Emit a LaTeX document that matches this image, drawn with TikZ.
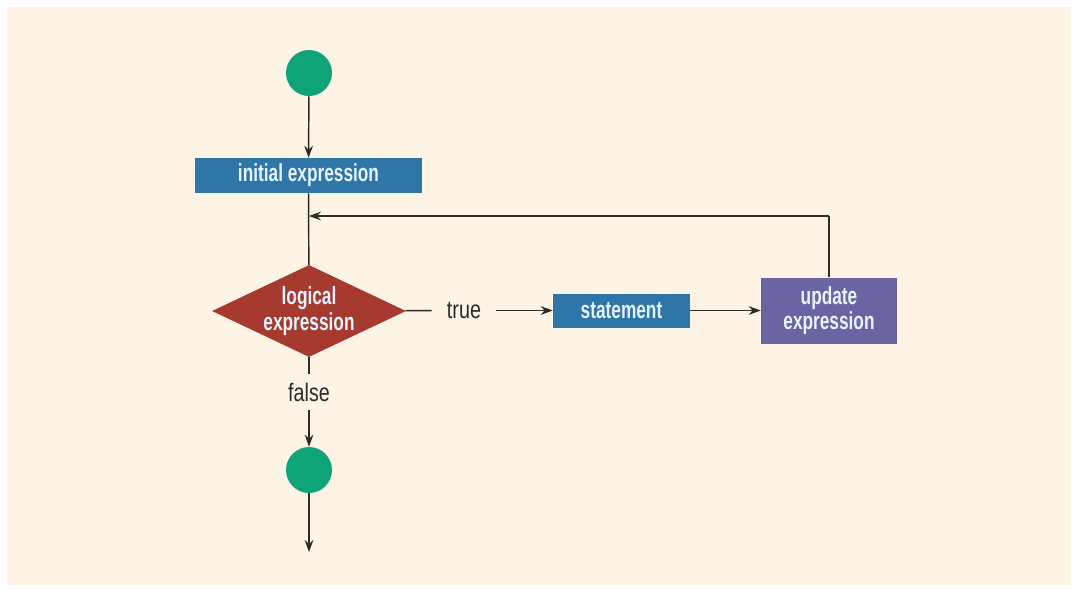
\documentclass[tikz,border=0pt]{standalone}
\usepackage{fontspec}
\setmainfont{Liberation Sans}[FakeStretch=0.78]
\newfontfamily\boxfont{Liberation Sans Bold}[FakeStretch=0.7]
\usepackage{tikz}
\usetikzlibrary{shapes.geometric,arrows.meta}

\definecolor{paper}{HTML}{FEF4E6}
\definecolor{flowgreen}{HTML}{0FA37A}
\definecolor{flowblue}{HTML}{2E76A8}
\definecolor{flowred}{HTML}{A63A2E}
\definecolor{flowpurple}{HTML}{6A64A2}
\definecolor{boxtext}{HTML}{E6F2FF}
\definecolor{wire}{HTML}{2E2A28}

\tikzset{
  dot/.style={circle,fill=flowgreen,minimum size=34.5pt,inner sep=0pt},
  bluebox/.style={rectangle,fill=flowblue,text=boxtext,inner sep=0pt,font=\boxfont\fontsize{18.5}{19}\selectfont},
  decision/.style={diamond,fill=flowred,text=boxtext,inner sep=0pt,minimum width=145.5pt,minimum height=69pt,aspect=2.1,align=center,font=\boxfont\fontsize{18.5}{19}\selectfont},
  updbox/.style={rectangle,fill=flowpurple,text=boxtext,inner sep=0pt,align=center,minimum width=102pt,minimum height=49.5pt,font=\boxfont\fontsize{18.5}{19}\selectfont},
  lbl/.style={text=wire,inner sep=0pt,font=\fontsize{19}{20}\selectfont},
  flow/.style={draw=wire,line width=1.1pt,-{Stealth[length=9pt,width=6.5pt]}},
  wireline/.style={draw=wire,line width=1.1pt}
}

\begin{document}
\begin{tikzpicture}[x=0.75pt,y=-0.75pt]
    % Tlo
    \useasboundingbox (0,0) rectangle (1078,590);
    \fill[white] (0,0) rectangle (1078,590);
    \fill[paper] (7,7) rectangle (1071,585);

    % Bloki
    \node[dot] (start) at (309,73) {};
    \node[bluebox,minimum width=170.25pt,minimum height=26.25pt] (init) at (308.5,175.5) {initial expression};
    \node[decision] (cond) at (309,311) {logical\\expression};
    \node[lbl,minimum width=48pt,minimum height=16pt] (true) at (464,310.5) {true};
    \node[bluebox,minimum width=102.75pt,minimum height=25.5pt] (stmt) at (621.5,310.5) {statement};
    \node[updbox] (upd) at (829,310.5) {update\\expression};
    \node[lbl,minimum height=27pt] (false) at (309,392) {false};
    \node[dot] (stop) at (309,470) {};
    \coordinate (out) at (309,552);
    \coordinate (back) at (829,216);
    \coordinate (join) at (309,216);

    % Strzalki
    \draw[flow] (start) -- (init);
    \draw[wireline] (init) -- (cond);
    \draw[wireline] (cond) -- (true);
    \draw[flow] (true) -- (stmt);
    \draw[flow] (stmt) -- (upd);
    \draw[wireline] (upd) -- (back);
    \draw[flow] (back) -- (join);
    \draw[wireline] (cond) -- (false);
    \draw[flow] (false) -- (stop);
    \draw[flow] (stop) -- (out);
\end{tikzpicture}
\end{document}
